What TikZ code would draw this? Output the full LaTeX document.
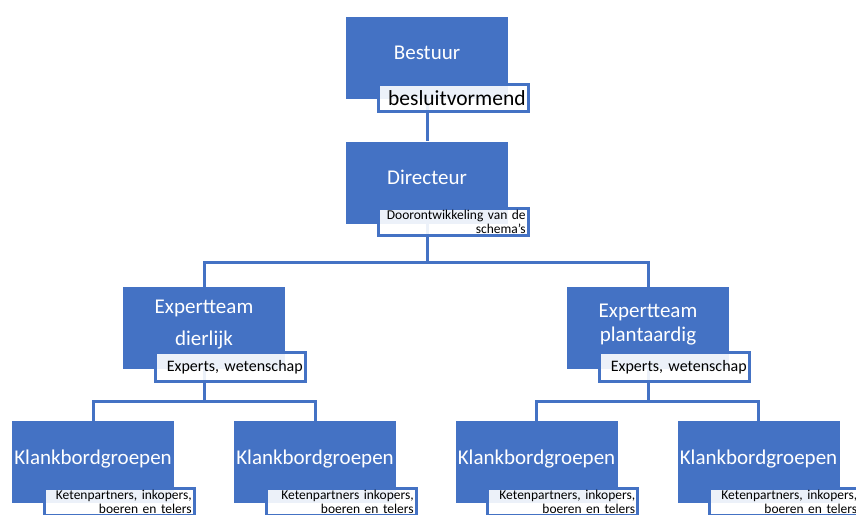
\documentclass[tikz,border=0pt]{standalone}
\usepackage{fontspec}
\setmainfont{Carlito}
\usetikzlibrary{positioning}
\definecolor{orgblue}{HTML}{4472C4}
\frenchspacing

\begin{document}
\begin{tikzpicture}[x=1pt, y=-1pt,
    unitbox/.style={fill=orgblue, text=white, minimum width=162pt, minimum height=82pt, inner sep=0pt, align=center, text depth=10pt, font=\fontsize{21}{24}\selectfont},
    tagbox/.style={draw=orgblue, line width=2.8pt, fill=white, fill opacity=0.9, text opacity=1, text=black, align=right, text width=145pt, minimum height=27pt, inner xsep=2.5pt, inner ysep=1pt, font=\fontsize{13.5}{14.3}\selectfont},
    link/.style={draw=orgblue, line width=3pt}]
    \useasboundingbox (0,0) rectangle (856,514);
    \clip (0,0) rectangle (856,514);

    \node[unitbox] (bestuur) at (427,58) {Bestuur};
    \node[unitbox] (directeur) at (427,182.5) {Directeur};
    \node[unitbox] (expd) at (204,328) {Expertteam\\[8pt]dierlijk};
    \node[unitbox] (expp) at (648,328) {Expertteam\\plantaardig};
    \node[unitbox] (kb1) at (93,462) {Klankbordgroepen};
    \node[unitbox] (kb2) at (315,462) {Klankbordgroepen};
    \node[unitbox] (kb3) at (536.5,462) {Klankbordgroepen};
    \node[unitbox] (kb4) at (758.5,462) {Klankbordgroepen};

    \coordinate (j1) at (427,262);
    \coordinate (j2) at (204,401);
    \coordinate (j3) at (648,401);

    \draw[link] (bestuur.south) -- (directeur.north);
    \draw[link] (directeur.south) -- (j1) -| (expd.north);
    \draw[link] (j1) -| (expp.north);
    \draw[link] (expd.south) -- (j2) -| (kb1.north);
    \draw[link] (j2) -| (kb2.north);
    \draw[link] (expp.south) -- (j3) -| (kb3.north);
    \draw[link] (j3) -| (kb4.north);

    \node[tagbox, font=\fontsize{21.5}{24}\selectfont, below right=-16pt and 31pt of bestuur.south west] (besluit) {besluitvormend};
    \node[tagbox, below right=-17pt and 31pt of directeur.south west] (doorontw) {Doorontwikkeling van de\\schema’s};
    \node[tagbox, font=\fontsize{16}{18}\selectfont, minimum height=29pt, below right=-18pt and 31pt of expd.south west] (expertsd) {Experts, wetenschap};
    \node[tagbox, font=\fontsize{16}{18}\selectfont, minimum height=29pt, below right=-18pt and 31pt of expp.south west] (expertsp) {Experts, wetenschap};
    \node[tagbox, below right=-16pt and 31pt of kb1.south west] (keten1) {Ketenpartners, inkopers,\\boeren en telers};
    \node[tagbox, below right=-16pt and 31pt of kb2.south west] (keten2) {Ketenpartners inkopers,\\boeren en telers};
    \node[tagbox, below right=-16pt and 31pt of kb3.south west] (keten3) {Ketenpartners, inkopers,\\boeren en telers};
    \node[tagbox, below right=-16pt and 31pt of kb4.south west] (keten4) {Ketenpartners, inkopers,\\boeren en telers};
\end{tikzpicture}
\end{document}
